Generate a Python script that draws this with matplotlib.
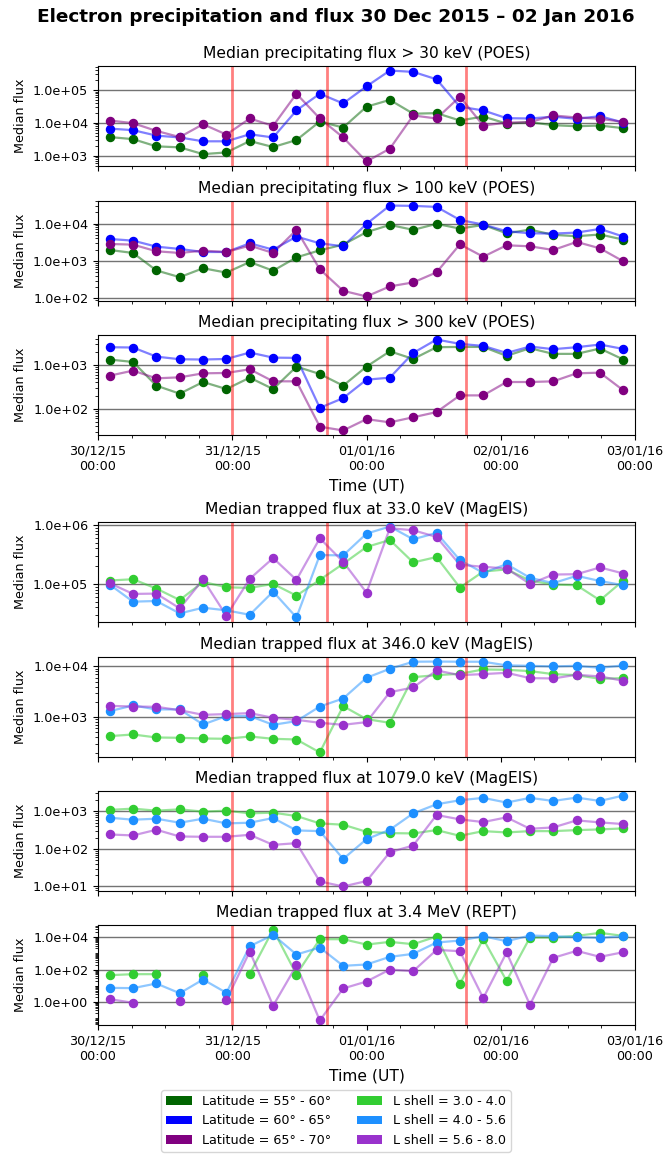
import numpy as np
import pandas as pd
import matplotlib
matplotlib.use('Agg')
import matplotlib.pyplot as plt
import matplotlib.dates as mdates
from matplotlib.ticker import LogLocator, FormatStrFormatter, NullFormatter
from matplotlib.patches import Patch

nan = np.nan

# 23 time bins spanning 30/12/15 00:00 - 03/01/16 00:00, points at bin centres
binEdges = pd.date_range('2015-12-30 00:00', '2016-01-03 00:00', periods=24)
binCentres = binEdges[:-1] + (binEdges[1:] - binEdges[:-1]) / 2
eventTimes = pd.to_datetime(['2015-12-31 00:00', '2015-12-31 17:00', '2016-01-01 17:50'])

# POES precipitating flux, by latitude band
lat55_30 = [3700, 3200, 1930, 1800, 1120, 1260, 2800, 1840, 3000, 11000, 7200, 31000, 50000,
            19000, 19800, 11800, 15600, 9500, 10500, 8500, 7900, 8300, 6900]
lat60_30 = [6700, 6000, 4100, 3600, 2750, 2750, 4500, 3600, 23900, 77000, 39000, 129000, 391000,
            356000, 212000, 31000, 23900, 13900, 13600, 15400, 13300, 16000, 10200]
lat65_30 = [11800, 9800, 5700, 3700, 9100, 4400, 13600, 8100, 77000, 13600, 3600, 670, 1640,
            16800, 13600, 62500, 8300, 10200, 10500, 16800, 14600, 13300, 10700]

lat55_100 = [1970, 1640, 560, 370, 640, 490, 940, 550, 1250, 1930, 2740, 5900, 9200,
             6800, 9800, 7350, 9200, 5500, 6900, 5000, 4600, 5100, 3730]
lat60_100 = [3880, 3500, 2420, 2100, 1740, 1740, 2970, 2010, 4490, 2970, 2470, 9800, 30300,
             29700, 27900, 12500, 9400, 6240, 5500, 5400, 5740, 7200, 4490]
lat65_100 = [2850, 2740, 1820, 1640, 1890, 1740, 2580, 1640, 6770, 600, 160, 113, 210,
             268, 497, 2790, 1300, 2630, 2470, 1970, 3230, 2180, 980]

lat55_300 = [1330, 1170, 337, 221, 408, 282, 513, 282, 916, 622, 337, 916, 2050,
             1370, 2540, 2580, 2580, 1610, 2410, 1790, 1790, 2370, 1330]
lat60_300 = [2540, 2500, 1550, 1350, 1330, 1370, 1920, 1470, 1450, 105, 175, 461, 513,
             1880, 3800, 3030, 2720, 1880, 2630, 2290, 2540, 2920, 2320]
lat65_300 = [570, 742, 495, 522, 644, 656, 796, 423, 423, 39, 32, 58, 49,
             64, 84, 202, 202, 408, 408, 423, 644, 667, 263]

# MagEIS / REPT trapped flux, by L shell
l3_33 = [114000, 120000, 83300, 53300, 108000, 87700, 85500, 100000, 63200, 117000, 219000, 422000,
         555000, 231000, 285000, 86600, 162000, 176000, 114000, 97500, 94900, 52700, 114000]
l4_33 = [97400, 50000, 51300, 31600, 39500, 35600, 30000, 74000, 27000, 308000, 304000, 711000,
         937000, 570000, 731000, 253000, 154000, 216000, 127000, 103000, 137000, 112000, 95000]
l5_33 = [103000, 67600, 68500, 38500, 119000, 28800, 122000, 274000, 117000, 593000, 237000, 71100,
         877000, 811000, 624000, 211000, 195000, 182000, 100000, 144000, 146000, 190000, 150000]

l3_346 = [422, 455, 397, 391, 379, 374, 415, 374, 362, 201, 1650, 913, 773,
          6150, 6740, 7160, 8730, 8600, 8090, 7060, 6740, 5710, 5890]
l4_346 = [1310, 1700, 1420, 1420, 717, 1050, 1050, 706, 834, 1620, 2330, 5970, 9000,
          12400, 12500, 12400, 12400, 10500, 10300, 10000, 10300, 9400, 10500]
l5_346 = [1670, 1620, 1600, 1370, 1110, 1150, 1200, 970, 886, 773, 706, 797, 3110,
          3850, 8340, 6740, 7060, 7500, 5890, 5800, 6850, 6360, 5210]

l3_1079 = [1090, 1180, 1040, 1130, 980, 1040, 884, 921, 750, 477, 440, 285, 263,
           258, 316, 223, 297, 274, 297, 297, 316, 330, 351]
l4_1079 = [676, 598, 636, 497, 636, 477, 497, 663, 310, 297, 54, 181, 323,
           884, 1540, 1970, 2280, 1710, 2280, 1890, 2320, 1890, 2630]
l5_1079 = [242, 228, 323, 214, 210, 210, 237, 128, 142, 13.6, 10, 13.9, 81.5,
           123, 798, 611, 518, 690, 343, 373, 574, 507, 458]

l3_3400 = [44.6, 51.4, 51.4, nan, 46.7, nan, 54, 29800, 49, 7520, 7520, 3510, 5140,
           3690, 11000, 12.4, 7890, 19.9, 9530, 9530, 12100, 18500, 12100]
l4_3400 = [7.3, 7.0, 13.6, 3.4, 24, 3.6, 2770, 13900, 847, 2300, 169, 204, 608,
           931, 4680, 6220, 11500, 5660, 12700, 11500, 10000, 9100, 11500]
l5_3400 = [1.46, 0.87, nan, 1.15, nan, 1.27, 1300, 0.57, 177, 0.07, 6.7, 18, 100,
           79, 1640, 1360, 1.69, 1130, 0.65, 527, 1430, 608, 1180]

poesColors = ['darkgreen', 'blue', 'purple']
poesLabels = ['Latitude = 55° - 60°', 'Latitude = 60° - 65°', 'Latitude = 65° - 70°']
rbspColors = ['limegreen', 'dodgerblue', 'darkorchid']
rbspLabels = ['L shell = 3.0 - 4.0', 'L shell = 4.0 - 5.6', 'L shell = 5.6 - 8.0']

FS = 9.2


def plotPanel(fig, rect, title, series, colors, decadeStep=10, xlabels=False):
    ax = fig.add_axes(rect)
    for y, c in zip(series, colors):
        ax.plot(binCentres, y, '-', color=c, alpha=0.5, lw=1.6)
    for t in eventTimes:
        ax.axvline(t, color='red', alpha=0.5, lw=2)
    for y, c in zip(series, colors):
        ax.plot(binCentres, y, 'o', color=c, ms=5.8)
    ax.set_yscale('log')
    ax.yaxis.set_major_locator(LogLocator(base=decadeStep, numticks=50))
    ax.yaxis.set_minor_locator(LogLocator(base=10, subs=np.arange(1, 10), numticks=50))
    ax.yaxis.set_major_formatter(FormatStrFormatter('%.1e'))
    ax.yaxis.set_minor_formatter(NullFormatter())
    ax.grid(axis='y', which='major', color='0.45', lw=1)
    ax.set_xlim(pd.Timestamp('2015-12-30'), pd.Timestamp('2016-01-03'))
    ax.xaxis.set_major_locator(mdates.DayLocator())
    ax.xaxis.set_minor_locator(mdates.HourLocator(byhour=[6, 12, 18]))
    ax.xaxis.set_major_formatter(mdates.DateFormatter('%d/%m/%y\n%H:%M'))
    if not xlabels:
        ax.tick_params(axis='x', which='both', labelbottom=False)
    else:
        ax.set_xlabel('Time (UT)', fontsize=11.2)
    ax.tick_params(labelsize=FS)
    ax.set_title(title, fontsize=11.2)
    ax.set_ylabel('Median flux', fontsize=FS)
    return ax


def main():
    fig = plt.figure(figsize=(6.72, 11.63), dpi=100)
    H = 1163.0
    left = 98 / 672.0
    width = 537 / 672.0
    # axes bottoms in pixels from the top of the figure
    bottoms = [166, 301, 435, 622, 757, 891, 1025]
    rects = [[left, 1 - b / H, width, 100 / H] for b in bottoms]

    plotPanel(fig, rects[0], 'Median precipitating flux > 30 keV (POES)',
              [lat55_30, lat60_30, lat65_30], poesColors)
    plotPanel(fig, rects[1], 'Median precipitating flux > 100 keV (POES)',
              [lat55_100, lat60_100, lat65_100], poesColors)
    plotPanel(fig, rects[2], 'Median precipitating flux > 300 keV (POES)',
              [lat55_300, lat60_300, lat65_300], poesColors, xlabels=True)
    plotPanel(fig, rects[3], 'Median trapped flux at 33.0 keV (MagEIS)',
              [l3_33, l4_33, l5_33], rbspColors)
    plotPanel(fig, rects[4], 'Median trapped flux at 346.0 keV (MagEIS)',
              [l3_346, l4_346, l5_346], rbspColors)
    plotPanel(fig, rects[5], 'Median trapped flux at 1079.0 keV (MagEIS)',
              [l3_1079, l4_1079, l5_1079], rbspColors)
    plotPanel(fig, rects[6], 'Median trapped flux at 3.4 MeV (REPT)',
              [l3_3400, l4_3400, l5_3400], rbspColors, decadeStep=100, xlabels=True)

    fig.suptitle('Electron precipitation and flux 30 Dec 2015 \u2013 02 Jan 2016',
                 fontsize=13.3, fontweight='bold', y=1 - 17 / H, va='center')

    handles = [Patch(facecolor=c, label=l) for c, l in zip(poesColors + rbspColors, poesLabels + rbspLabels)]
    fig.legend(handles=handles, loc='lower center', bbox_to_anchor=(0.5, 0.004), ncol=2, fontsize=FS)

    fig.savefig('out.png', dpi=100)


if __name__ == "__main__":
    main()
